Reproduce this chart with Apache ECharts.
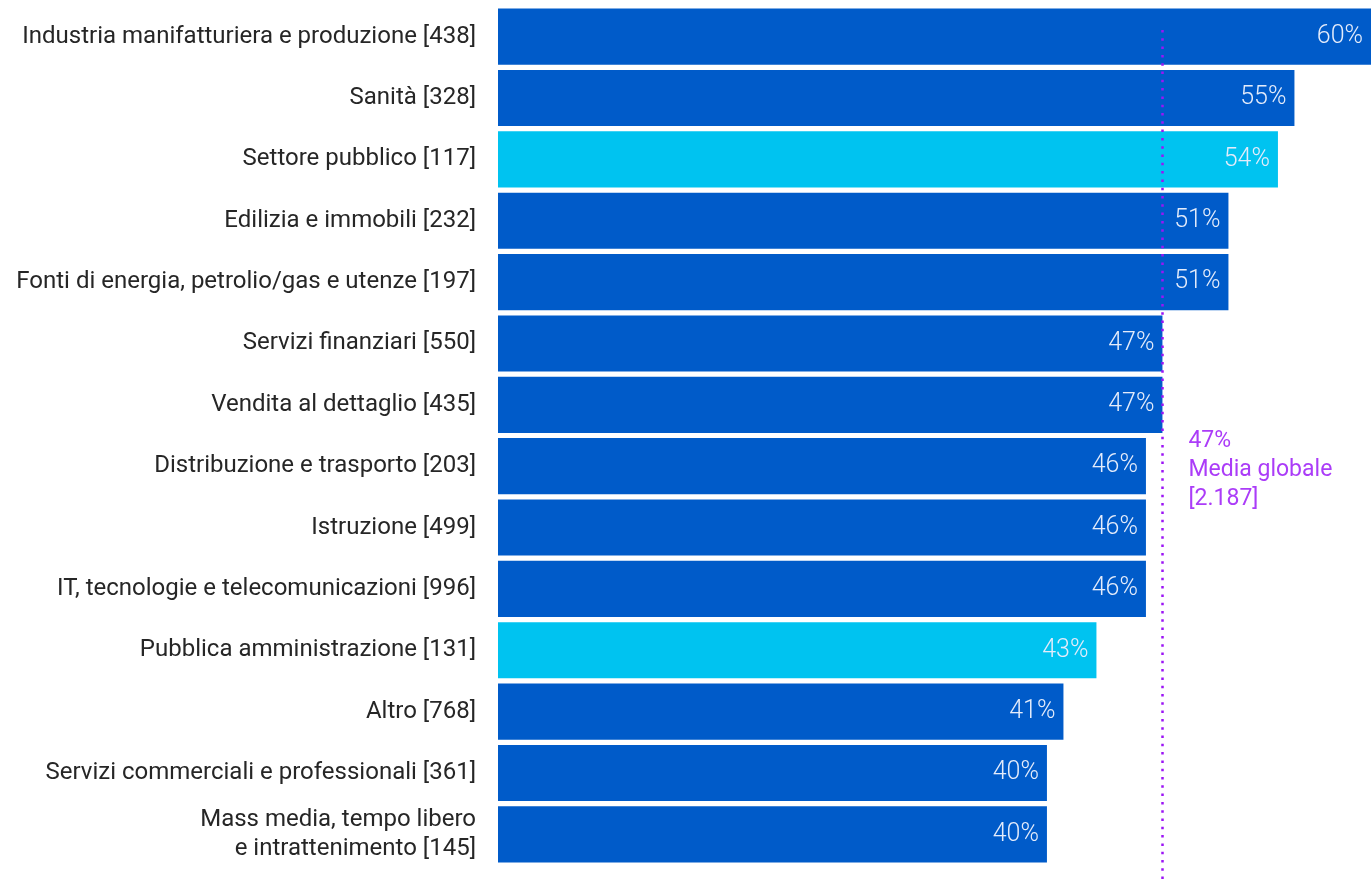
<!DOCTYPE html>
<html>
<head>
<meta charset="utf-8">
<style>
  html, body { margin: 0; padding: 0; background: #ffffff; }
  #chart { width: 1371px; height: 880px; }
</style>
<script src="https://cdn.jsdelivr.net/npm/echarts@6/dist/echarts.min.js"></script>
</head>
<body>
<div id="chart"></div>
<script>
// Sectors with respondent counts in brackets
const categories = [
  'Industria manifatturiera e produzione [438]',
  'Sanità [328]',
  'Settore pubblico [117]',
  'Edilizia e immobili [232]',
  'Fonti di energia, petrolio/gas e utenze [197]',
  'Servizi finanziari [550]',
  'Vendita al dettaglio [435]',
  'Distribuzione e trasporto [203]',
  'Istruzione [499]',
  'IT, tecnologie e telecomunicazioni [996]',
  'Pubblica amministrazione [131]',
  'Altro [768]',
  'Servizi commerciali e professionali [361]',
  'Mass media, tempo libero\ne intrattenimento [145]'
];
// Share per sector (%)
const values = [60, 55, 54, 51, 51, 47, 47, 46, 46, 46, 43, 41, 40, 40];
// Public-sector rows are shown in the lighter accent colour
const highlighted = [false, false, true, false, false, false, false, false, false, false, true, false, false, false];
// Global average
const globalAverage = 47;
const globalAverageLabel = ['47%', 'Media globale', '[2.187]'];
const averageRow = 'Distribuzione e trasporto [203]';

const DARK = '#005bc9';
const LIGHT = '#00c3f0';
const PURPLE = '#9c14f5';
const FONT = 'Roboto';

const chart = echarts.init(document.getElementById('chart'), null, { renderer: 'canvas' });

const option = {
  animation: false,
  backgroundColor: '#ffffff',
  grid: { left: 498, right: 0, top: 6, bottom: 15, containLabel: false },
  xAxis: {
    type: 'value',
    min: 6.73,
    max: 59.64,
    show: false
  },
  yAxis: {
    type: 'category',
    data: categories,
    inverse: true,
    axisLine: { show: false },
    axisTick: { show: false },
    splitLine: { show: false },
    axisLabel: {
      margin: 22,
      color: '#262626',
      fontFamily: FONT,
      fontSize: 24,
      fontWeight: 400,
      lineHeight: 29,
      align: 'right'
    }
  },
  series: [{
    type: 'bar',
    data: values.map((v, i) => ({
      value: v,
      itemStyle: { color: highlighted[i] ? LIGHT : DARK }
    })),
    barCategoryGap: '8.5%',
    label: {
      show: true,
      position: 'insideRight',
      distance: 8,
      formatter: p => p.value + '%',
      color: '#e4ecfb',
      fontFamily: FONT,
      fontSize: 25,
      fontWeight: 300
    },
    markPoint: {
      silent: true,
      symbol: 'rect',
      symbolSize: 0,
      data: [{ coord: [globalAverage, averageRow] }],
      label: {
        show: true,
        position: 'right',
        distance: 26,
        offset: [0, 4],
        align: 'left',
        formatter: globalAverageLabel.join('\n'),
        color: '#ab3cf8',
        fontFamily: FONT,
        fontSize: 23,
        fontWeight: 400,
        lineHeight: 29
      }
    }
  }]
};

chart.setOption(option);

// Dotted average line: x from the axis scale, running from just below the top bar's upper edge to the page bottom
const avgX = Math.round(chart.convertToPixel({ xAxisIndex: 0 }, globalAverage));
chart.setOption({
  series: [{
    markLine: {
      silent: true,
      symbol: ['none', 'none'],
      label: { show: false },
      lineStyle: { color: PURPLE, width: 2.5, type: [2.5, 5.8], opacity: 1 },
      data: [[{ x: avgX, y: 30 }, { x: avgX, y: 880 }]]
    }
  }]
});
</script>
</body>
</html>
